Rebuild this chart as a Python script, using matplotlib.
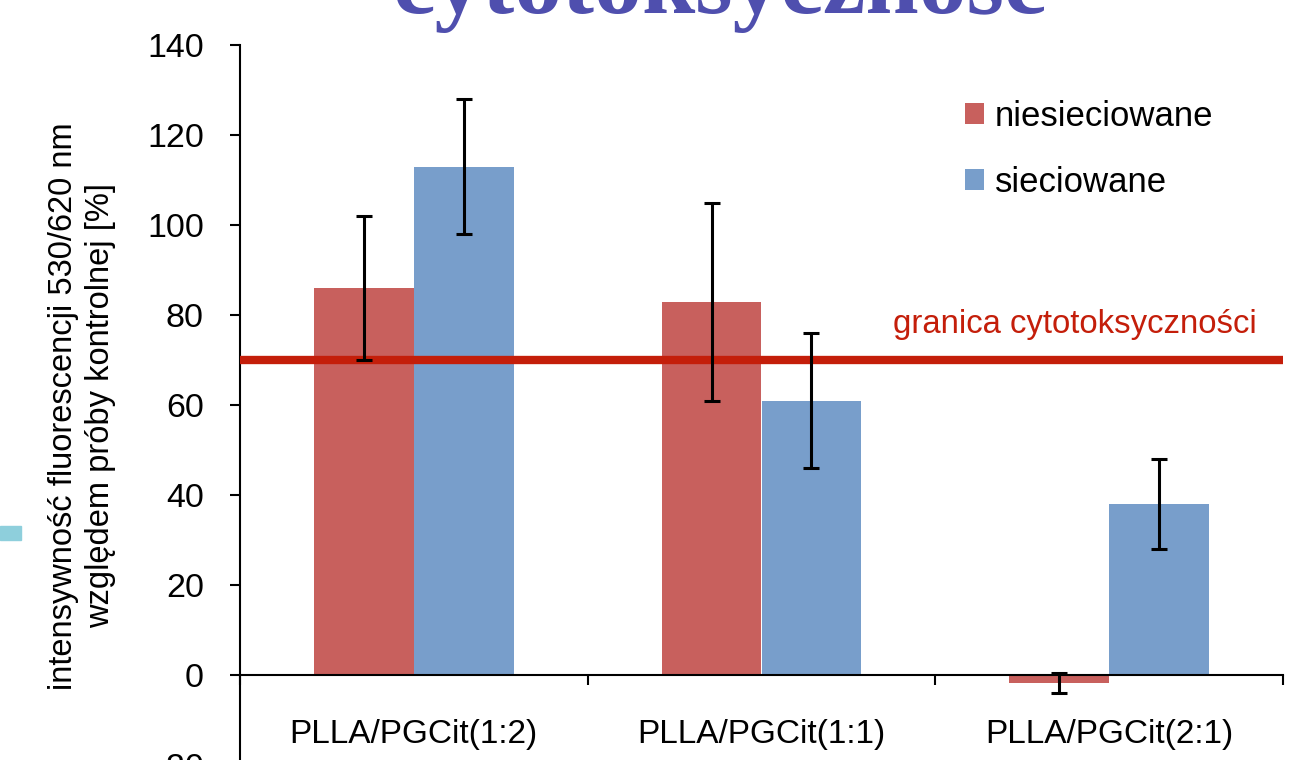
import matplotlib.pyplot as plt
import numpy as np
from matplotlib.patches import Rectangle

# Data
groups = ['PLLA/PGCit(1:2)', 'PLLA/PGCit(1:1)', 'PLLA/PGCit(2:1)']
niesieciowane = [86, 83, -1.7]
niesieciowane_err = [16, 22, 2.2]
sieciowane = [113, 61, 38]
sieciowane_err = [15, 15, 10]
threshold = 70

red = '#c8605d'
blue = '#789ecb'

fig = plt.figure(figsize=(13.14, 7.6), dpi=100)
W, H = 1314, 760
# axes run past the bottom edge, so the -20 label is cut in half
ax = fig.add_axes([240 / W, -5 / H, (1283 - 240) / W, (765 - 45) / H])

x = np.arange(len(groups))
width = 0.287
err_kw = dict(ecolor='black', elinewidth=2.2, capsize=5.5, capthick=2.2, zorder=4)
ax.bar(x - width / 2, niesieciowane, width, color=red, label='niesieciowane', zorder=2)
ax.bar(x + width / 2, sieciowane, width, color=blue, label='sieciowane', zorder=2)
ax.errorbar(x - width / 2, niesieciowane, yerr=niesieciowane_err, fmt='none', **err_kw)
ax.errorbar(x + width / 2, sieciowane, yerr=sieciowane_err, fmt='none', **err_kw)

# cytotoxicity threshold
ax.axhline(threshold, xmin=0, xmax=0.997, color='#c41e0a', lw=6, zorder=3)
ax.text(1.90, threshold + 7.8, 'granica cytotoksyczności', color='#c41e0a',
        fontsize=23.7, family='Liberation Sans', ha='center', va='center')

ax.set_xlim(-0.5, 2.5)
ax.set_ylim(-20, 140)
ax.set_yticks(np.arange(-20, 141, 20))
ax.tick_params(axis='y', labelsize=24.5, length=7, width=1.5, direction='out',
               pad=19, labelfontfamily='Liberation Sans')

ax.set_xticks([-0.5, 0.5, 1.5, 2.5])
ax.set_xticklabels([])
ax.set_xticks(x, minor=True)
ax.set_xticklabels(groups, minor=True)
ax.tick_params(axis='x', which='major', length=7, width=1.5, direction='out')
ax.tick_params(axis='x', which='minor', length=0, pad=32, labelsize=24,
               labelfontfamily='Liberation Sans')

for s in ['top', 'right']:
    ax.spines[s].set_visible(False)
ax.spines['bottom'].set_position(('data', 0))
ax.spines['bottom'].set_linewidth(1.5)
ax.spines['left'].set_linewidth(1.5)
ax.set_facecolor('none')

leg = ax.legend(loc='upper left', bbox_to_anchor=(965 / W, 1 - 100 / H),
                bbox_transform=fig.transFigure, frameon=False,
                prop={'family': 'Liberation Sans', 'size': 25},
                handlelength=0.55, handleheight=0.55, handletextpad=0.3,
                labelspacing=0.95, borderpad=0, borderaxespad=0)

fig.text(82 / W, 1 - 406 / H,
         'intensywność fluorescencji 530/620 nm\nwzględem próby kontrolnej [%]',
         rotation=90, ha='center', va='center', fontsize=23.5,
         family='Liberation Sans', linespacing=1.25)

fig.text(720 / W, 1 - 13 / H, 'cytotoksyczność', ha='center', va='baseline',
         fontsize=69, fontweight='bold', family='Liberation Serif', color='#4f4fae')

fig.patches.append(Rectangle((0, 1 - 540 / H), 21 / W, 14 / H,
                             transform=fig.transFigure, color='#8ecfdc'))

fig.savefig('out.png', dpi=100)
